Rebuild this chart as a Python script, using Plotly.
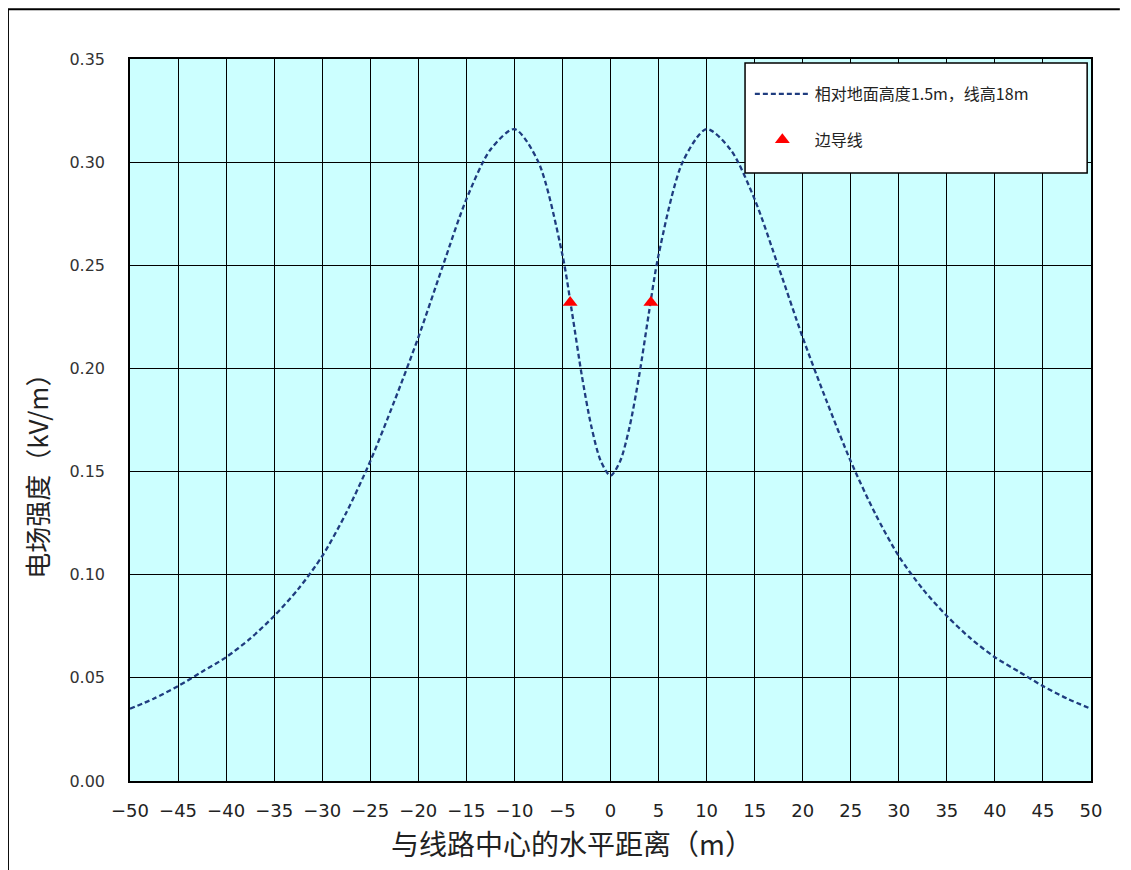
import plotly.graph_objects as go

# Distance from line centre (m) and field strength (kV/m)
distance = [-50, -47.5, -45, -42.5, -40, -37.5, -35, -32.5, -30, -27.5, -25, -22.5,
            -20, -17.5, -15, -12.5, -10, -7.5, -5, -4, -3, -2, -1, 0,
            1, 2, 3, 4, 5, 7.5, 10, 12.5, 15, 17.5, 20, 22.5, 25, 27.5,
            30, 32.5, 35, 37.5, 40, 42.5, 45, 47.5, 50]
field = [0.035, 0.040, 0.046, 0.053, 0.060, 0.069, 0.080, 0.093, 0.109, 0.130, 0.155, 0.184,
         0.215, 0.249, 0.282, 0.306, 0.316, 0.300, 0.255, 0.227, 0.197, 0.172, 0.155, 0.148,
         0.155, 0.172, 0.197, 0.227, 0.255, 0.300, 0.316, 0.306, 0.282, 0.249, 0.215, 0.184, 0.155, 0.130,
         0.109, 0.093, 0.080, 0.069, 0.060, 0.053, 0.046, 0.040, 0.035]

edge_x = [-4.2, 4.2]
edge_y = [0.232, 0.232]

x_ticks = list(range(-50, 51, 5))
y_ticks = [0.00, 0.05, 0.10, 0.15, 0.20, 0.25, 0.30, 0.35]

series_name = "相对地面高度1.5m，线高18m"
marker_name = "边导线"
x_title = "与线路中心的水平距离（m）"
y_title = "电场强度（kV/m）"

fig = go.Figure()
fig.add_trace(go.Scatter(
    x=distance, y=field, mode="lines", name=series_name,
    line=dict(color="#1F3C7F", width=2.3, dash="5px,3px", shape="spline", smoothing=0.8),
    legendgroup="a",
))
fig.add_trace(go.Scatter(
    x=edge_x, y=edge_y, mode="markers", name=marker_name,
    marker=dict(symbol="triangle-up", color="#FF0000", size=13),
    legendgroup="b",
))

cjk = "Noto Sans CJK SC, Liberation Serif, serif"

fig.update_layout(
    width=1131, height=870,
    margin=dict(l=122, r=48, t=51, b=97),
    paper_bgcolor="white",
    plot_bgcolor="#CCFFFF",
    showlegend=True,
    legend=dict(
        x=0.645, y=0.975, xanchor="left", yanchor="top",
        bgcolor="rgba(0,0,0,0)", borderwidth=0,
        font=dict(family=cjk, size=16, color="#222222"),
        tracegroupgap=22,
        itemwidth=55,
    ),
    xaxis=dict(
        range=[-50, 50], tickvals=x_ticks,
        ticktext=[("\u2212" + str(-v)) if v < 0 else str(v) for v in x_ticks],
        showgrid=True, gridcolor="black", gridwidth=1,
        zeroline=False, showline=True, linecolor="black", linewidth=1.5, mirror=True,
        ticks="", ticklabelstandoff=13,
        tickfont=dict(family="DejaVu Sans, sans-serif", size=18, color="#222222"),
    ),
    yaxis=dict(
        range=[0, 0.35], tickvals=y_ticks, tickformat=".2f",
        showgrid=True, gridcolor="black", gridwidth=1,
        zeroline=False, showline=True, linecolor="black", linewidth=1.5, mirror=True,
        ticks="", ticklabelstandoff=20,
        tickfont=dict(family="DejaVu Sans, sans-serif", size=16, color="#333333"),
    ),
    annotations=[
        dict(text=x_title, xref="paper", yref="paper", x=0.46, y=-0.0859,
             xanchor="center", yanchor="middle", showarrow=False,
             font=dict(family=cjk, size=28, color="#222222")),
        dict(text=y_title, xref="paper", yref="paper", x=-0.0968, y=0.431,
             xanchor="center", yanchor="middle", showarrow=False, textangle=-90,
             font=dict(family=cjk, size=26, color="#222222")),
    ],
    shapes=[
        dict(type="rect", xref="paper", yref="paper", x0=0.640, x1=0.996, y0=0.842, y1=0.9945,
             fillcolor="white", line=dict(color="black", width=1.5), layer="above"),
        dict(type="line", xref="paper", yref="paper", x0=-0.127, x1=1.03, y0=1.069, y1=1.069,
             line=dict(color="black", width=2)),
        dict(type="line", xref="paper", yref="paper", x0=-0.127, x1=-0.127, y0=1.069, y1=-0.13,
             line=dict(color="black", width=2)),
    ],
)

fig.write_html("out.html")
